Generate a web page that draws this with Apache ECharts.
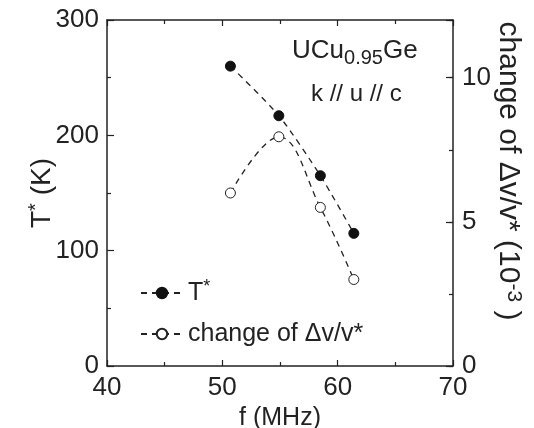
<!DOCTYPE html>
<html>
<head>
<meta charset="utf-8">
<script src="https://cdn.jsdelivr.net/npm/echarts@6/dist/echarts.min.js"></script>
<style>html,body{margin:0;padding:0;background:#fff}#c{width:534px;height:428px}</style>
</head>
<body>
<div id="c"></div>
<script>
var freq = [50.7, 54.9, 58.5, 61.4];
var tStar = [260, 217, 165, 115];
var changeDv = [6.0, 7.95, 5.5, 3.0];
var xTicks = [40, 50, 60, 70];
var leftTicks = [0, 100, 200, 300];
var rightTicks = [0, 5, 10];

var FONT = 'Liberation Sans, Arial, sans-serif';
var chart = echarts.init(document.getElementById('c'));
function pairs(xs, ys){ return xs.map(function(x,i){ return [x, ys[i]]; }); }
var axisLineStyle = {color:'#222', width:1.5};
chart.setOption({
  animation:false,
  backgroundColor:'#fff',
  grid:{left:107, right:81, top:20, bottom:62, show:false, containLabel:false, outerBoundsMode:'none'},
  xAxis:[{
    type:'value', min:xTicks[0], max:xTicks[xTicks.length-1], interval:10,
    name:'f (MHz)', nameLocation:'middle', nameGap:40, nameMoveOverlap:false,
    nameTextStyle:{fontFamily:FONT, fontSize:25, color:'#222'},
    axisLine:{show:true, onZero:false, lineStyle:axisLineStyle},
    axisTick:{show:true, inside:true, length:6, lineStyle:{color:'#222', width:1.2}},
    minorTick:{show:true, splitNumber:2, length:4, lineStyle:{color:'#222', width:1.2}},
    axisLabel:{fontFamily:FONT, fontSize:26, color:'#222', margin:9},
    splitLine:{show:false}
  },{
    type:'value', position:'top', min:40, max:70, interval:10,
    axisLine:{show:true, onZero:false, lineStyle:axisLineStyle},
    axisTick:{show:true, inside:true, length:6, lineStyle:{color:'#222', width:1.2}},
    minorTick:{show:true, splitNumber:2, length:4, lineStyle:{color:'#222', width:1.2}},
    axisLabel:{show:false}, splitLine:{show:false}
  }],
  yAxis:[{
    type:'value', min:leftTicks[0], max:leftTicks[leftTicks.length-1], interval:100,
    name:'T{sup|*} (K)', nameLocation:'middle', nameGap:49, nameRotate:90, nameMoveOverlap:false,
    nameTextStyle:{fontFamily:FONT, fontSize:28, color:'#222',
      rich:{sup:{fontFamily:FONT, fontSize:20, color:'#222', verticalAlign:'top', padding:[0,0,12,0]}}},
    axisLine:{show:true, onZero:false, lineStyle:axisLineStyle},
    axisTick:{show:true, inside:true, length:7, lineStyle:{color:'#222', width:1.2}},
    minorTick:{show:true, splitNumber:2, length:4, lineStyle:{color:'#222', width:1.2}},
    axisLabel:{fontFamily:FONT, fontSize:26, color:'#222', margin:8},
    splitLine:{show:false}
  },{
    type:'value', position:'right', min:0, max:12, interval:5,
    axisLine:{show:true, onZero:false, lineStyle:axisLineStyle},
    axisTick:{show:true, inside:true, length:7, lineStyle:{color:'#222', width:1.2}},
    axisLabel:{fontFamily:FONT, fontSize:26, color:'#222', margin:9,
      formatter:function(v){ return rightTicks.indexOf(v) >= 0 ? String(v) : ''; }},
    splitLine:{show:false}
  },{
    type:'value', position:'right', min:0, max:12, interval:2.5,
    axisLine:{show:false},
    axisTick:{show:true, inside:true, length:4, lineStyle:{color:'#222', width:1.2}},
    axisLabel:{show:false}, splitLine:{show:false}
  }],
  legend:{
    orient:'vertical', left:135, top:273, itemWidth:42, itemHeight:13, itemGap:16,
    textStyle:{fontFamily:FONT, fontSize:25, color:'#222',
      rich:{sup:{fontFamily:FONT, fontSize:18, color:'#222', verticalAlign:'top', padding:[0,0,12,0]}}},
    formatter:function(n){ return n === 'T*' ? 'T{sup|*}' : n; },
    data:['T*','change of \u0394v/v*']
  },
  graphic:[
    {type:'text', left:292, top:38, style:{text:'UCu{sub|0.95}Ge', font:'26px '+FONT, fill:'#222',
      rich:{sub:{fontFamily:FONT, fontSize:20, color:'#222', padding:[14,0,0,0]}}}},
    {type:'text', left:311, top:82, style:{text:'k // u // c', font:'24px '+FONT, fill:'#222'}},
    {type:'text', x:508, y:171, rotation:-Math.PI/2,
      style:{text:'change of \u0394v/v* (10{sup|-3} )', font:'30px '+FONT, fill:'#222',
        textAlign:'center', textVerticalAlign:'middle',
        rich:{sup:{fontFamily:FONT, fontSize:21, color:'#222', padding:[0,0,12,0]}}}}
  ],
  series:[{
    name:'T*', type:'line', xAxisIndex:0, yAxisIndex:0, smooth:0.25,
    data:pairs(freq, tStar), symbol:'circle', symbolSize:10,
    itemStyle:{color:'#111', borderColor:'#111', borderWidth:1},
    lineStyle:{color:'#222', width:1.3, type:[6,5]}
  },{
    name:'change of \u0394v/v*', type:'line', xAxisIndex:0, yAxisIndex:1, smooth:0.4,
    data:pairs(freq, changeDv), symbol:'circle', symbolSize:10,
    itemStyle:{color:'#fff', borderColor:'#222', borderWidth:1},
    lineStyle:{color:'#222', width:1.3, type:[6,5]}
  }]
});
</script>
</body>
</html>
